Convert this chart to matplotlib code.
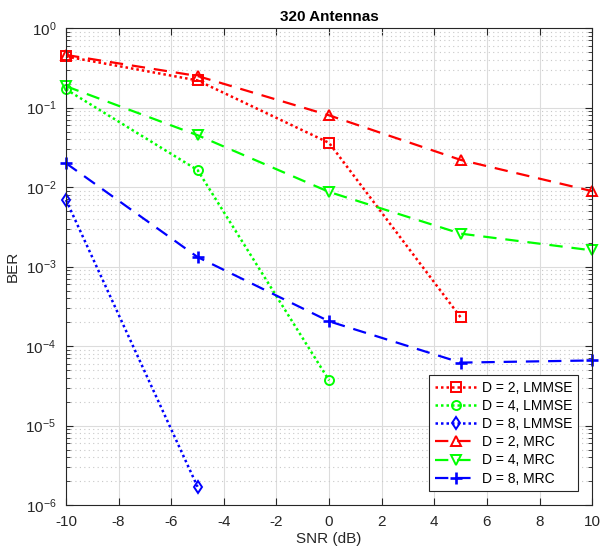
import numpy as np
import matplotlib
matplotlib.use('Agg')
import matplotlib.pyplot as plt
from matplotlib.ticker import LogLocator, NullFormatter

plt.rcParams['font.family'] = ['Liberation Sans', 'DejaVu Sans']
plt.rcParams['axes.unicode_minus'] = False

# ── data ──────────────────────────────────────────────────────────────────
snr = [-10, -5, 0, 5, 10]

ber_d2_lmmse = [0.44, 0.22, 0.036, 2.3e-4]
ber_d4_lmmse = [0.17, 0.0164, 3.7e-5]
ber_d8_lmmse = [0.0069, 1.7e-6]

ber_d2_mrc = [0.46, 0.25, 0.080, 0.022, 0.0089]
ber_d4_mrc = [0.186, 0.045, 0.0087, 0.0026, 0.0016]
ber_d8_mrc = [0.020, 0.00132, 2.05e-4, 6.2e-5, 6.6e-5]

labels = ['D = 2, LMMSE', 'D = 4, LMMSE', 'D = 8, LMMSE',
          'D = 2, MRC', 'D = 4, MRC', 'D = 8, MRC']

# ── plot ──────────────────────────────────────────────────────────────────
fig = plt.figure(figsize=(6, 5.52), dpi=100)
ax = fig.add_axes([0.11, 0.085, 0.877, 0.864])

mk = dict(ms=6.5, mew=1.4, mfc='none', clip_on=False)
dot = (0, (1, 1.2))
ax.semilogy(snr[:4], ber_d2_lmmse, ls=dot, lw=1.8, color='r', marker='s', label=labels[0], **mk)
ax.semilogy(snr[:3], ber_d4_lmmse, ls=dot, lw=1.8, color='#00ff00', marker='o', label=labels[1], **mk)
ax.semilogy(snr[:2], ber_d8_lmmse, ls=dot, lw=1.8, color='b', marker='d', label=labels[2], **mk)
ax.semilogy(snr, ber_d2_mrc, '--', lw=1.6, color='r', marker='^', label=labels[3], dashes=(6, 4), **mk)
ax.semilogy(snr, ber_d4_mrc, '--', lw=1.6, color='#00ff00', marker='v', label=labels[4], dashes=(6, 4), **mk)
ax.semilogy(snr, ber_d8_mrc, '--', lw=1.6, color='b', marker='+', label=labels[5], dashes=(6, 4),
            ms=9, mew=1.9, clip_on=False)

ax.set_xlim(-10, 10)
ax.set_ylim(1e-6, 1)
ax.set_xticks(np.arange(-10, 11, 2))
ax.yaxis.set_major_locator(LogLocator(base=10, numticks=10))
ax.yaxis.set_minor_locator(LogLocator(base=10, subs=np.arange(2, 10), numticks=20))
ax.yaxis.set_minor_formatter(NullFormatter())

ax.grid(True, which='major', color='#dcdcdc', lw=0.8)
ax.grid(True, which='minor', axis='y', color='#c8c8c8', ls=(0, (1, 3)), lw=0.8)
ax.set_axisbelow(True)

ax.tick_params(which='both', direction='in', top=True, right=True,
               labelsize=11, colors='#262626')
ax.tick_params(which='major', length=5, pad=7)
ax.tick_params(which='minor', length=3)
for s in ax.spines.values():
    s.set_color('#262626')

ax.set_xlabel('SNR (dB)', fontsize=11, color='#262626', labelpad=2)
ax.set_ylabel('BER', fontsize=11, color='#262626', labelpad=4)
ax.set_title('320 Antennas', fontsize=11, fontweight='bold', pad=5)

leg = ax.legend(loc='lower right', fontsize=10, numpoints=1, handlelength=3.0,
                fancybox=False, framealpha=1, edgecolor='#262626',
                borderaxespad=1.0, labelspacing=0.3, handletextpad=0.4,
                borderpad=0.4)
leg.get_frame().set_linewidth(0.8)

fig.savefig('out.png', dpi=100)
